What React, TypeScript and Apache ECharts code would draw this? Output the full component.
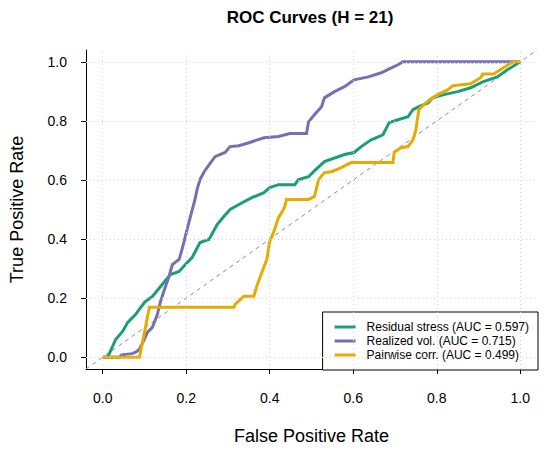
import React, { useEffect, useRef } from "react";
import * as echarts from "echarts";

const tickValues = [0, 0.2, 0.4, 0.6, 0.8, 1.0];
const axisRange = [-0.04, 1.04];

const seriesNames = [
  "Residual stress (AUC = 0.597)",
  "Realized vol. (AUC = 0.715)",
  "Pairwise corr. (AUC = 0.499)",
];
const seriesColors = ["#1b9e77", "#7570b3", "#e6ab02"];

// [FPR, TPR]
const residualStress = [
  [0, 0], [0.012, 0], [0.031, 0.06], [0.048, 0.088], [0.06, 0.118], [0.079, 0.145],
  [0.1, 0.186], [0.119, 0.206], [0.143, 0.247], [0.162, 0.28], [0.183, 0.29],
  [0.198, 0.314], [0.214, 0.337], [0.233, 0.388], [0.255, 0.399], [0.274, 0.449],
  [0.29, 0.476], [0.305, 0.5], [0.326, 0.517], [0.357, 0.54], [0.386, 0.557],
  [0.4, 0.574], [0.421, 0.584], [0.46, 0.584], [0.469, 0.601], [0.493, 0.611],
  [0.505, 0.628], [0.531, 0.662], [0.579, 0.686], [0.602, 0.693], [0.619, 0.713],
  [0.643, 0.736], [0.671, 0.753], [0.686, 0.794], [0.707, 0.804], [0.731, 0.814],
  [0.743, 0.838], [0.757, 0.848], [0.779, 0.861], [0.79, 0.878], [0.817, 0.889],
  [0.85, 0.899], [0.881, 0.912], [0.91, 0.932], [0.945, 0.949], [0.969, 0.973],
  [1, 1],
];

const realizedVol = [
  [0, 0], [0.04, 0], [0.045, 0.008], [0.07, 0.012], [0.079, 0.017], [0.088, 0.027],
  [0.1, 0.061], [0.107, 0.084], [0.119, 0.101], [0.131, 0.145], [0.138, 0.186],
  [0.148, 0.23], [0.159, 0.274], [0.167, 0.314], [0.183, 0.331], [0.19, 0.365],
  [0.202, 0.432], [0.21, 0.476], [0.221, 0.534], [0.226, 0.568], [0.233, 0.601],
  [0.243, 0.628], [0.255, 0.652], [0.269, 0.679], [0.293, 0.693], [0.305, 0.713],
  [0.326, 0.716], [0.35, 0.726], [0.386, 0.743], [0.421, 0.747], [0.448, 0.757],
  [0.488, 0.757], [0.493, 0.797], [0.507, 0.821], [0.524, 0.848], [0.531, 0.878],
  [0.555, 0.899], [0.579, 0.916], [0.602, 0.939], [0.636, 0.949], [0.667, 0.963],
  [0.686, 0.976], [0.707, 0.99], [0.719, 1], [1, 1],
];

const pairwiseCorr = [
  [0, 0], [0.088, 0], [0.095, 0.05], [0.103, 0.105], [0.107, 0.135], [0.112, 0.169],
  [0.314, 0.169], [0.317, 0.179], [0.338, 0.206], [0.362, 0.206], [0.369, 0.24],
  [0.381, 0.287], [0.393, 0.331], [0.4, 0.392], [0.41, 0.426], [0.421, 0.473],
  [0.429, 0.49], [0.436, 0.51], [0.44, 0.534], [0.493, 0.534], [0.507, 0.544],
  [0.517, 0.601], [0.531, 0.625], [0.548, 0.628], [0.571, 0.642], [0.595, 0.659],
  [0.695, 0.659], [0.698, 0.693], [0.714, 0.709], [0.731, 0.713], [0.743, 0.736],
  [0.75, 0.77], [0.757, 0.838], [0.769, 0.855], [0.786, 0.875], [0.802, 0.889],
  [0.826, 0.905], [0.838, 0.919], [0.881, 0.926], [0.905, 0.946], [0.91, 0.959],
  [0.936, 0.959], [0.952, 0.973], [0.971, 0.99], [0.983, 1], [1, 1],
];

const diagonal = [
  [-0.04, -0.04],
  [1.04, 1.04],
];

const FONT = "'Liberation Sans', Arial, Helvetica, sans-serif";

function makeAxis(name: string, isX: boolean) {
  return {
    type: "value",
    min: axisRange[0],
    max: axisRange[1],
    name,
    nameLocation: "middle",
    nameGap: isX ? 58 : 60,
    nameTextStyle: { fontSize: 18, color: "#000", fontFamily: FONT },
    axisLine: { show: true, onZero: false, lineStyle: { color: "#000", width: 1 } },
    axisTick: {
      show: true,
      customValues: tickValues,
      length: 5,
      inside: false,
      lineStyle: { color: "#000", width: 1 },
    },
    axisLabel: {
      show: true,
      customValues: tickValues,
      formatter: (v: number) => v.toFixed(1),
      fontSize: 14,
      color: "#000",
      fontFamily: FONT,
      margin: isX ? 22 : 19,
    },
    splitLine: { show: false },
  };
}

export default function App() {
  const ref = useRef<HTMLDivElement>(null);

  useEffect(() => {
    if (!ref.current) return;
    const chart = echarts.init(ref.current, null, { renderer: "svg" });
    const gridLineStyle = { color: "#d3d3d3", type: [1, 3], width: 1 };
    const curves = [residualStress, realizedVol, pairwiseCorr];
    const option = {
      animation: false,
      backgroundColor: "#ffffff",
      textStyle: { fontFamily: FONT },
      title: {
        text: "ROC Curves (H = 21)",
        left: 310,
        top: 9,
        textAlign: "center",
        padding: 0,
        textStyle: { fontSize: 17, fontWeight: "bold", color: "#000", fontFamily: FONT },
      },
      grid: { left: 83, right: 13, top: 50, bottom: 81, containLabel: false },
      xAxis: makeAxis("False Positive Rate", true),
      yAxis: makeAxis("True Positive Rate", false),
      legend: {
        data: seriesNames,
        orient: "vertical",
        right: 12,
        bottom: 80,
        backgroundColor: "#ffffff",
        borderColor: "#000",
        borderWidth: 1,
        borderRadius: 0,
        padding: [9, 9, 9, 12],
        itemGap: 2,
        itemWidth: 21,
        itemHeight: 3,
        icon: "rect",
        selectedMode: false,
        textStyle: { fontSize: 12, color: "#000", fontFamily: FONT, padding: [0, 0, 0, 6] },
      },
      series: [
        {
          name: "diagonal",
          type: "line",
          data: diagonal,
          symbol: "none",
          silent: true,
          lineStyle: { color: "#8c8c8c", width: 1, type: [4, 4] },
          z: 1,
          markLine: {
            silent: true,
            symbol: "none",
            label: { show: false },
            lineStyle: gridLineStyle,
            data: [
              ...tickValues.map((v) => ({ xAxis: v })),
              ...tickValues.map((v) => ({ yAxis: v })),
            ],
          },
        },
        ...curves.map((d, i) => ({
          name: seriesNames[i],
          type: "line",
          data: d,
          symbol: "none",
          showSymbol: false,
          silent: true,
          lineStyle: { color: seriesColors[i], width: 3, join: "miter" },
          itemStyle: { color: seriesColors[i] },
          z: 2 + i,
        })),
      ],
    };
    chart.setOption(option as any);
    return () => chart.dispose();
  }, []);

  return (
    <div
      ref={ref}
      style={{ position: "fixed", left: 0, top: 0, width: 550, height: 450, background: "#fff" }}
    />
  );
}
